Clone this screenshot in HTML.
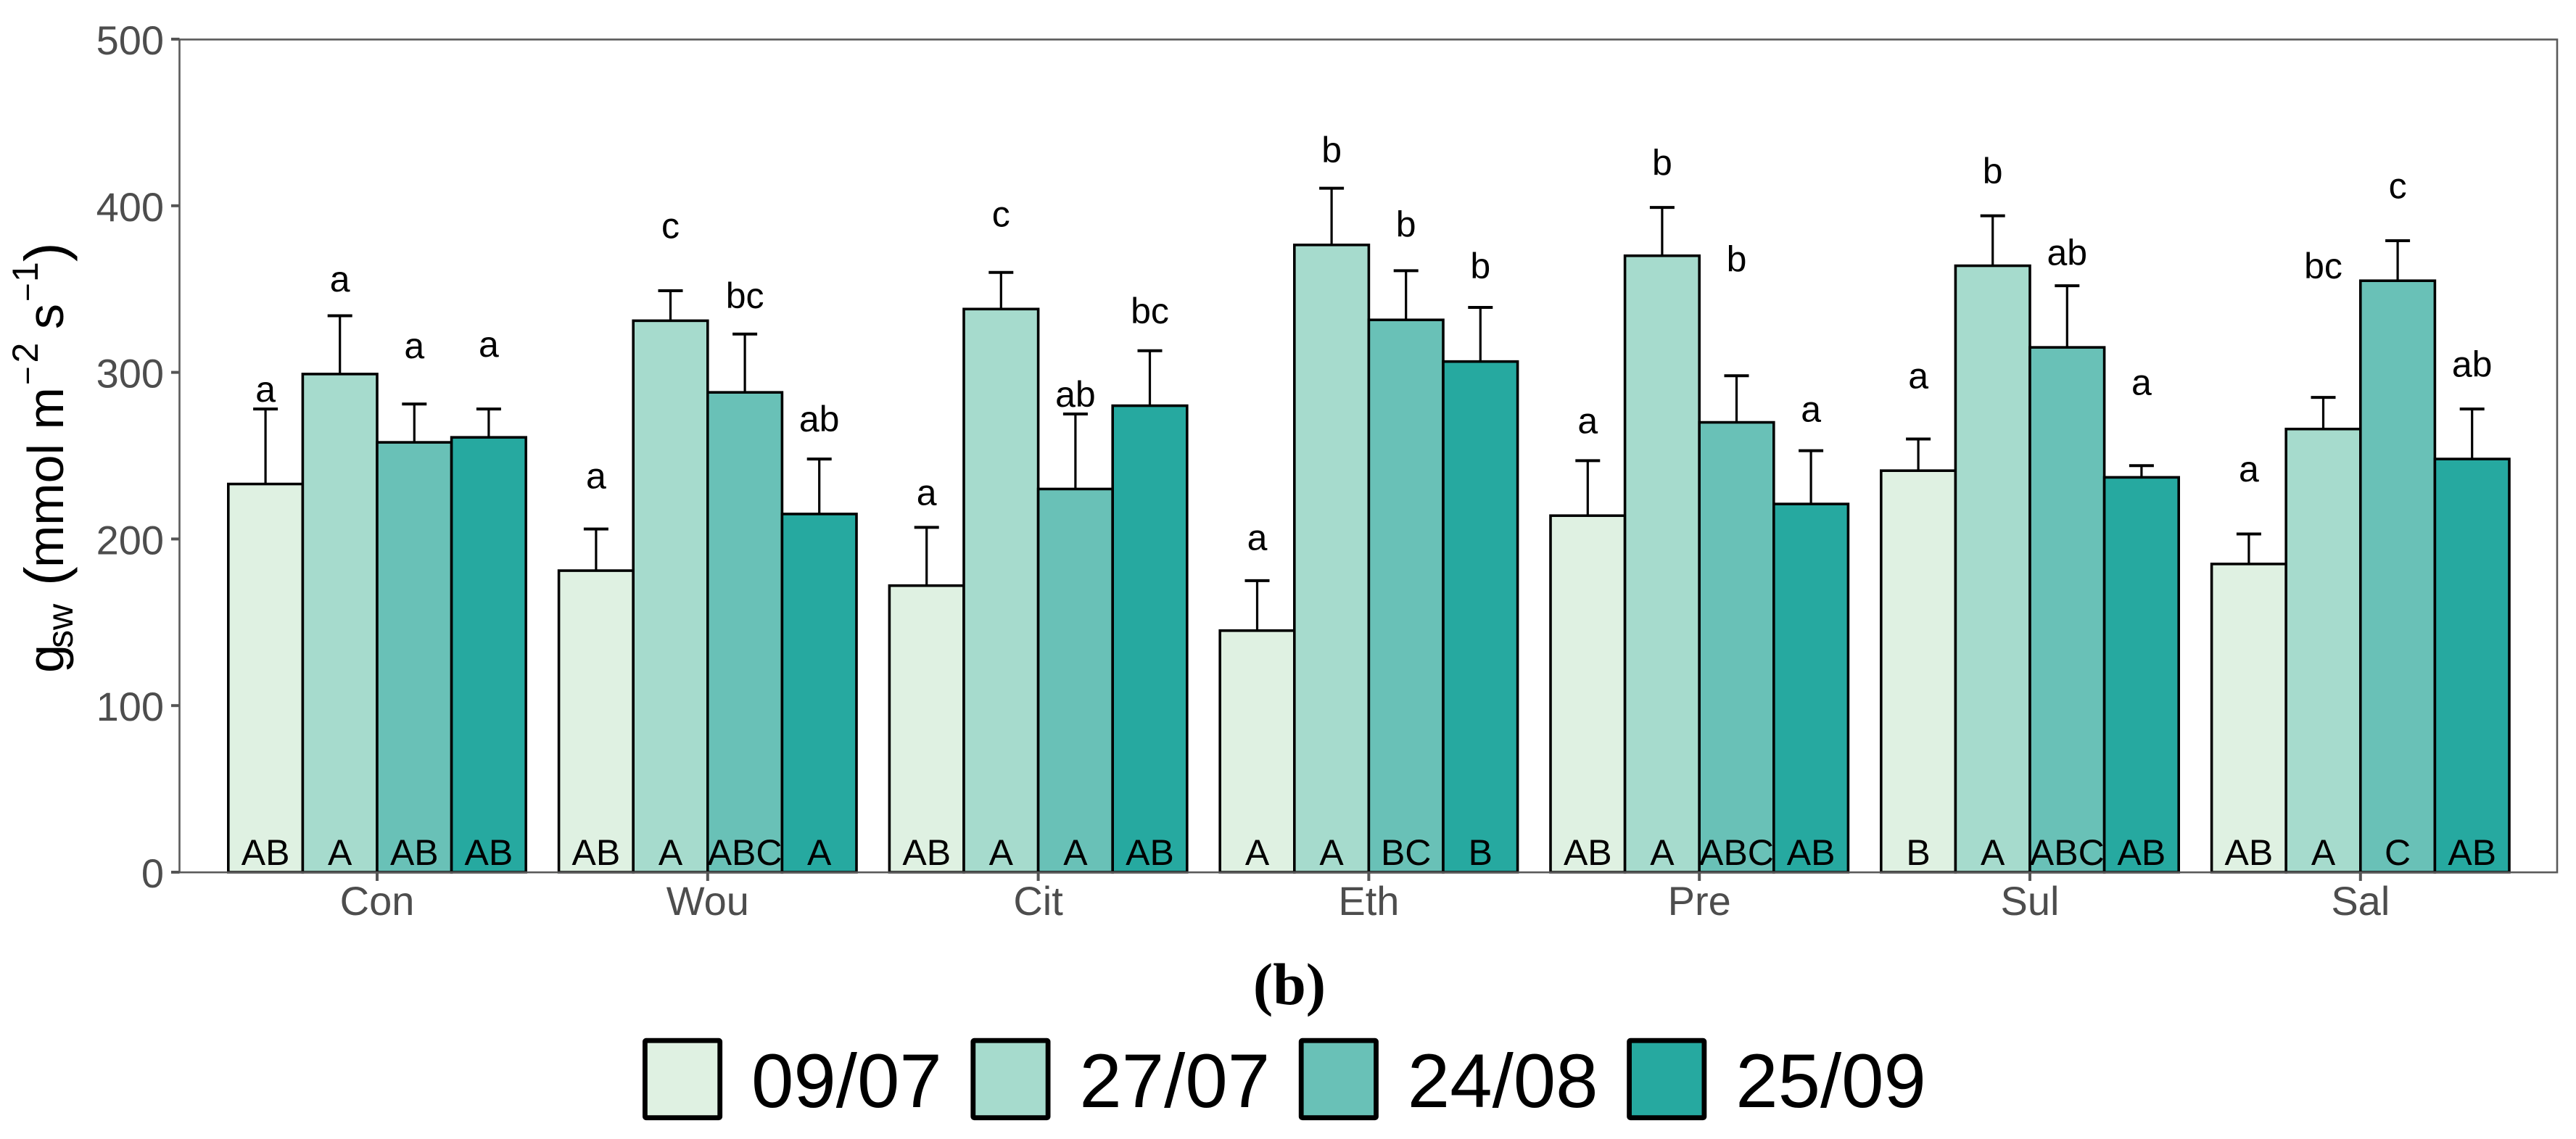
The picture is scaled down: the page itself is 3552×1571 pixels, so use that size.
<!DOCTYPE html>
<html>
<head>
<meta charset="utf-8">
<title>gsw bar chart</title>
<style>
html,body{margin:0;padding:0;background:#fff;}
svg{display:block;font-family:"Liberation Sans",sans-serif;}
</style>
</head>
<body>
<svg id="chart" xmlns="http://www.w3.org/2000/svg" width="3552" height="1571" viewBox="0 0 3552 1571">
  <rect x="0" y="0" width="3552" height="1571" fill="#ffffff"/>
  <g id="bars"></g>
  <rect x="247.5" y="54.5" width="3278.5" height="1148.7" fill="none" stroke="#5a5a5a" stroke-width="2.6"/>
  <g id="axes"></g>
  <g id="labels"></g>
  <text transform="translate(87,925) rotate(-90)" font-size="70" fill="#000"><tspan x="-3" y="0">g</tspan><tspan x="31" y="13" font-size="50">sw</tspan><tspan x="117" y="3" font-size="80">(</tspan><tspan x="142" y="0">mmol</tspan><tspan x="332.5" y="0">m</tspan><tspan x="394" y="-34" font-size="44">−</tspan><tspan x="424.5" y="-35" font-size="50">2</tspan><tspan x="471" y="0">s</tspan><tspan x="509" y="-34" font-size="44">−</tspan><tspan x="536" y="-35" font-size="50">1</tspan><tspan x="564" y="3" font-size="80">)</tspan></text>
  <text x="1778" y="1385" text-anchor="middle" font-family="'Liberation Serif',serif" font-weight="bold" font-size="82" fill="#000">(b)</text>
  <g id="legend"></g>
</svg>
<script>
const categories = ["Con", "Wou", "Cit", "Eth", "Pre", "Sul", "Sal"];
const seriesNames = ["09/07", "27/07", "24/08", "25/09"];
const seriesColors = ["#dff1e2", "#a6dbcd", "#69c1b7", "#26a9a0"];
const yTicks = [0, 100, 200, 300, 400, 500];

const values0907 = [233, 181, 172, 145, 214, 241, 185];
const values2707 = [299, 331, 338, 376.5, 370, 364, 266];
const values2408 = [258, 288, 230, 331.5, 270, 315, 355];
const values2509 = [261, 215, 280, 306.5, 221, 237, 248];

const errTop0907 = [278, 206, 207, 175, 247, 260, 203];
const errTop2707 = [334, 349, 360, 410.5, 399, 394, 285];
const errTop2408 = [281, 323, 275, 361, 298, 352, 379];
const errTop2509 = [278, 248, 313, 339, 253, 244, 278];

const lower0907 = ["a", "a", "a", "a", "a", "a", "a"];
const lower2707 = ["a", "c", "c", "b", "b", "b", "bc"];
const lower2408 = ["a", "bc", "ab", "b", "b", "ab", "c"];
const lower2509 = ["a", "ab", "bc", "b", "a", "a", "ab"];

const lowerY0907 = [289, 237, 227, 200, 270, 297, 241];
const lowerY2707 = [355, 387, 394, 432.5, 425, 420, 363];
const lowerY2408 = [315, 345, 286, 388, 367, 371, 411];
const lowerY2509 = [316, 271, 336, 363, 277, 293, 304];

const upper0907 = ["AB", "AB", "AB", "A", "AB", "B", "AB"];
const upper2707 = ["A", "A", "A", "A", "A", "A", "A"];
const upper2408 = ["AB", "ABC", "A", "BC", "ABC", "ABC", "C"];
const upper2509 = ["AB", "A", "AB", "B", "AB", "AB", "AB"];

const seriesValues = [values0907, values2707, values2408, values2509];
const seriesErrTop = [errTop0907, errTop2707, errTop2408, errTop2509];
const seriesLower = [lower0907, lower2707, lower2408, lower2509];
const seriesLowerY = [lowerY0907, lowerY2707, lowerY2408, lowerY2509];
const seriesUpper = [upper0907, upper2707, upper2408, upper2509];

const NS = "http://www.w3.org/2000/svg";
const barsLayer = document.getElementById("bars");
const axesLayer = document.getElementById("axes");
const labelsLayer = document.getElementById("labels");
const legendLayer = document.getElementById("legend");

function yScale(v) { return 1203 - v * 2.298; }
function xCenter(i) { return 520 + i * 455.8; }
function barWidth() { return 102.6; }
function xBar(i, s) { return xCenter(i) + (s - 2) * barWidth(); }

function make(tag, parent, attrs) {
  const el = document.createElementNS(NS, tag);
  Object.keys(attrs).forEach(function (k) { el.setAttribute(k, attrs[k]); });
  parent.appendChild(el);
  return el;
}

seriesValues.forEach(function (vals, s) {
  vals.forEach(function (v, i) {
    const x = xBar(i, s);
    const w = barWidth();
    const cx = x + w / 2;
    const topY = yScale(seriesErrTop[s][i]);

    const stem = make("line", barsLayer, { x1: cx, x2: cx, y1: yScale(v), y2: topY, stroke: "#000", "stroke-width": 3.2 });
    
    

    const cap = make("line", barsLayer, { x1: cx - 17, x2: cx + 17, y1: topY, y2: topY, stroke: "#000", "stroke-width": 4 });
    
    

    const bar = make("rect", barsLayer, { x: x, y: yScale(v), width: w, height: yScale(0) - yScale(v), fill: seriesColors[s], stroke: "#000", "stroke-width": 3.6 });
    
    

    const low = make("text", labelsLayer, { x: cx, y: yScale(seriesLowerY[s][i]) + 15, "text-anchor": "middle", "font-size": 50, fill: "#000" });
    low.textContent = seriesLower[s][i];
    
    

    const up = make("text", labelsLayer, { x: cx, y: 1193, "text-anchor": "middle", "font-size": 50, fill: "#000" });
    up.textContent = seriesUpper[s][i];
    
    
  });
});

yTicks.forEach(function (t) {
  const y = yScale(t);
  const tick = make("line", axesLayer, { x1: 236, x2: 247.5, y1: y, y2: y, stroke: "#555", "stroke-width": 4 });
  
  

  const label = make("text", axesLayer, { x: 226, y: y + 21, "text-anchor": "end", "font-size": 56, fill: "#4d4d4d" });
  label.textContent = String(t);
  
  
});

categories.forEach(function (c, i) {
  const x = xCenter(i);
  const tick = make("line", axesLayer, { x1: x, x2: x, y1: 1203, y2: 1215, stroke: "#555", "stroke-width": 4 });
  
  

  const label = make("text", axesLayer, { x: x, y: 1262, "text-anchor": "middle", "font-size": 56, fill: "#4d4d4d" });
  label.textContent = c;
  
  
});

seriesNames.forEach(function (name, s) {
  const lx = 889.4 + s * 452.4;
  const swatch = make("rect", legendLayer, { x: lx, y: 1435.2, width: 103.3, height: 106.5, rx: 1.5, fill: seriesColors[s], stroke: "#000", "stroke-width": 6.8 });
  
  

  const label = make("text", legendLayer, { x: lx + 146.6, y: 1527, "font-size": 105, fill: "#000" });
  label.textContent = name;
  
  
});
</script>
</body>
</html>
